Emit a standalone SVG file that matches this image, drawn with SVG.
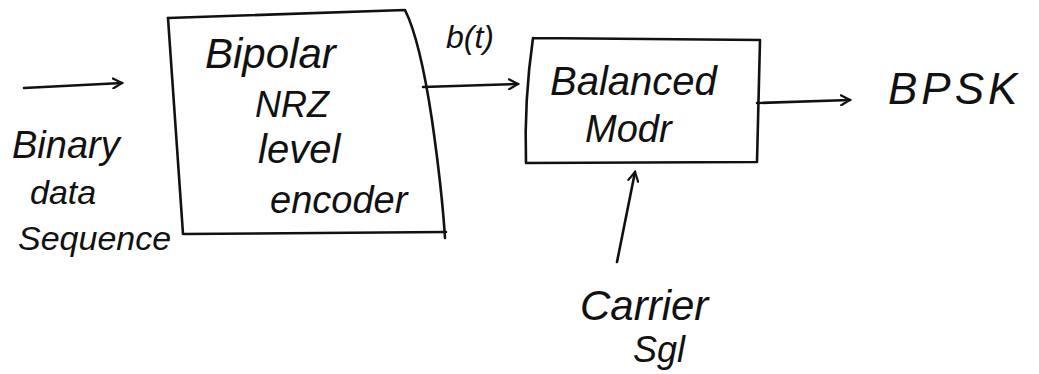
<svg xmlns="http://www.w3.org/2000/svg" width="1039" height="374" viewBox="0 0 1039 374">
<defs>
<style>
.ln{fill:none;stroke:#111;stroke-width:2.6;stroke-linecap:round;stroke-linejoin:round}
.t{font-family:"Liberation Sans",Arial,sans-serif;font-style:italic;fill:#111}
</style>
<marker id="ah" viewBox="0 0 12 12" refX="10" refY="6" markerWidth="12" markerHeight="12" markerUnits="userSpaceOnUse" orient="auto">
<path d="M1,1 L10,6 L1,11" fill="none" stroke="#111" stroke-width="2.2" stroke-linecap="round"/>
</marker>
</defs>
<rect width="1039" height="374" fill="#fff"/>
<g id="input-label">
<text class="t" x="12" y="158" font-size="38">Binary</text>
<text class="t" x="30" y="204" font-size="34">data</text>
<text class="t" x="18" y="250" font-size="34">Sequence</text>
</g>
<g id="encoder">
<path class="ln" d="M168,18 L405,10 Q420,40 432,120 Q442,190 445,238"/>
<path class="ln" d="M168,18 L183,234 L446,232"/>
<text class="t" x="205" y="68" font-size="42">Bipolar</text>
<text class="t" x="255" y="117" font-size="36">NRZ</text>
<text class="t" x="258" y="163" font-size="40">level</text>
<text class="t" x="270" y="213" font-size="38">encoder</text>
</g>
<g id="modulator">
<path class="ln" d="M533,38 L760,40 L757,162 L526,163 Q524,100 533,38"/>
<text class="t" x="550" y="95" font-size="40">Balanced</text>
<text class="t" x="585" y="142" font-size="38">Modr</text>
</g>
<g id="output-label">
<text class="t" x="888" y="104" font-size="44" letter-spacing="4">BPSK</text>
</g>
<g id="carrier-label">
<text class="t" x="580" y="320" font-size="42">Carrier</text>
<text class="t" x="633" y="362" font-size="36">Sgl</text>
</g>
<g id="connectors">
<path class="ln" d="M24,88 L122,83" marker-end="url(#ah)"/>
<path class="ln" d="M423,87 L518,84" marker-end="url(#ah)"/>
<path class="ln" d="M757,103 L850,100" marker-end="url(#ah)"/>
<path class="ln" d="M617,262 L635,172" marker-end="url(#ah)"/>
</g>
<g id="blabel">
<text class="t" x="446" y="48" font-size="32">b(t)</text>
</g>
</svg>
